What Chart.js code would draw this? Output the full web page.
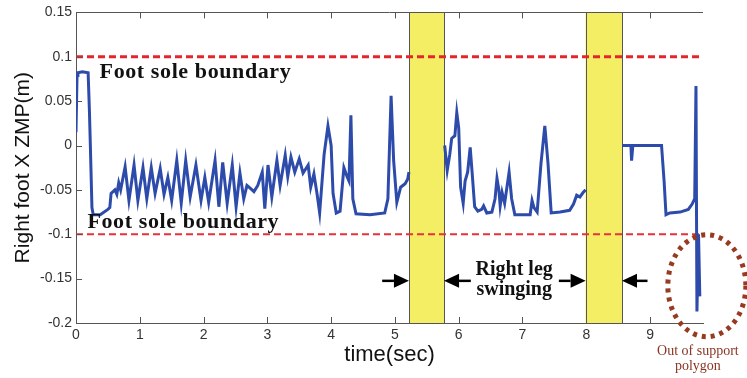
<!DOCTYPE html>
<html><head><meta charset="utf-8">
<script src="https://cdn.jsdelivr.net/npm/chart.js@4"></script>
<style>html,body{margin:0;padding:0;background:#fff;}#wrap{width:747px;height:378px;position:relative;}</style>
</head><body><div id="wrap"><canvas id="c" width="747" height="378"></canvas></div>
<script>
// ---- data ----
const time = [0.00,0.016,0.03,0.10,0.19,0.21,0.225,0.25,0.27,0.38,0.50,0.53,0.55,0.61,0.64,0.67,0.70,0.77,0.83,0.91,0.97,1.05,1.11,1.18,1.24,1.32,1.38,1.44,1.50,1.58,1.65,1.72,1.79,1.88,1.96,2.02,2.08,2.18,2.24,2.30,2.37,2.45,2.51,2.57,2.63,2.68,2.73,2.79,2.85,2.92,2.96,3.01,3.07,3.15,3.20,3.28,3.32,3.37,3.43,3.50,3.56,3.64,3.68,3.73,3.78,3.82,3.89,3.95,4.00,4.03,4.08,4.14,4.20,4.25,4.28,4.31,4.34,4.39,4.61,4.84,4.89,4.94,4.98,5.03,5.09,5.16,5.20,5.22,
  5.50,
  5.78,5.82,5.86,5.89,5.94,5.97,6.00,6.03,6.07,6.10,6.14,6.18,6.21,6.25,6.30,6.36,6.39,6.44,6.52,6.57,6.60,6.63,6.65,6.68,6.72,6.76,6.79,6.83,6.88,7.12,7.15,7.18,7.23,7.29,7.35,7.40,7.45,7.59,7.74,7.80,7.85,7.90,7.95,7.99,
  8.27,
  8.56,8.70,8.71,8.73,9.18,9.22,9.25,9.31,9.47,9.60,9.66,9.70,9.72,9.735,9.76,9.78];
const zmp = [0.015,0.079,0.082,0.083,0.082,0.04,0.0,-0.07,-0.078,-0.078,-0.072,-0.07,-0.054,-0.05,-0.055,-0.042,-0.05,-0.024,-0.062,-0.022,-0.062,-0.025,-0.060,-0.025,-0.054,-0.026,-0.055,-0.036,-0.062,-0.017,-0.065,-0.017,-0.058,-0.022,-0.062,-0.036,-0.064,-0.017,-0.069,-0.019,-0.065,-0.022,-0.069,-0.031,-0.060,-0.045,-0.048,-0.052,-0.045,-0.030,-0.071,-0.022,-0.058,-0.017,-0.045,-0.011,-0.035,-0.013,-0.030,-0.015,-0.031,-0.022,-0.047,-0.032,-0.055,-0.076,-0.010,0.022,0.000,-0.054,-0.076,-0.074,-0.025,-0.035,-0.040,0.034,-0.060,-0.077,-0.078,-0.076,-0.060,0.056,-0.017,-0.064,-0.047,-0.043,-0.038,-0.030,
  null,
  0.000,-0.028,-0.010,0.008,0.011,0.037,0.020,-0.047,-0.065,-0.040,-0.030,-0.002,-0.030,-0.069,-0.074,-0.072,-0.068,-0.076,-0.075,-0.060,-0.037,-0.050,-0.068,-0.053,-0.065,-0.045,-0.030,-0.060,-0.078,-0.078,-0.062,-0.070,-0.075,-0.020,0.022,-0.020,-0.076,-0.075,-0.073,-0.066,-0.056,-0.058,-0.053,-0.050,
  null,
  0.000,0.000,-0.017,0.000,0.000,-0.040,-0.078,-0.076,-0.075,-0.072,-0.066,-0.060,0.067,-0.187,-0.100,-0.170];
const xTicks = [0,1,2,3,4,5,6,7,8,9];
const xRange = [0, 9.83];
const yTicks = [-0.2,-0.15,-0.1,-0.05,0,0.05,0.1,0.15];
const yTickLabels = ['-0.2','-0.15','-0.1','-0.05','0','0.05','0.1','0.15'];
const boundaryTime = [0, 9.83];
const upperBoundary = [0.1, 0.1];
const lowerBoundary = [-0.1, -0.1];
const swingStart = [5.22, 7.99];
const swingEnd = [5.77, 8.56];

// ---- plugins ----
const SERIF = '"Liberation Serif", "DejaVu Serif", serif';
const SANS = '"Liberation Sans", Arial, sans-serif';

const bandPlugin = {
  id: 'bands',
  beforeDatasetsDraw(chart) {
    const {ctx, chartArea: ca, scales: {x}} = chart;
    ctx.save();
    for (let i = 0; i < swingStart.length; i++) {
      const x0 = x.getPixelForValue(swingStart[i]);
      const x1 = x.getPixelForValue(swingEnd[i]);
      ctx.fillStyle = '#F4EE64';
      ctx.fillRect(x0, ca.top, x1 - x0, ca.bottom - ca.top);
      ctx.strokeStyle = '#555';
      ctx.lineWidth = 1;
      ctx.beginPath();
      ctx.moveTo(Math.round(x0) + 0.5, ca.top); ctx.lineTo(Math.round(x0) + 0.5, ca.bottom);
      ctx.moveTo(Math.round(x1) + 0.5, ca.top); ctx.lineTo(Math.round(x1) + 0.5, ca.bottom);
      ctx.stroke();
    }
    ctx.restore();
  }
};

function arrow(ctx, xTail, xTip, y) {
  const dir = Math.sign(xTip - xTail);
  const head = 15;
  ctx.beginPath();
  ctx.moveTo(xTail, y);
  ctx.lineTo(xTip - dir * head, y);
  ctx.lineWidth = 2.5;
  ctx.strokeStyle = '#000';
  ctx.stroke();
  ctx.beginPath();
  ctx.moveTo(xTip, y);
  ctx.lineTo(xTip - dir * head, y - 7);
  ctx.lineTo(xTip - dir * head, y + 7);
  ctx.closePath();
  ctx.fillStyle = '#000';
  ctx.fill();
}

const decoPlugin = {
  id: 'deco',
  afterDraw(chart) {
    const {ctx, chartArea: ca, scales: {x, y}} = chart;
    ctx.save();
    // top border
    ctx.strokeStyle = '#555';
    ctx.lineWidth = 1;
    ctx.beginPath();
    ctx.moveTo(ca.left, Math.round(ca.top) + 0.5);
    ctx.lineTo(ca.right, Math.round(ca.top) + 0.5);
    ctx.stroke();
    // inward ticks
    ctx.beginPath();
    xTicks.forEach(v => {
      if (v === 0) return;
      const px = Math.round(x.getPixelForValue(v)) + 0.5;
      ctx.moveTo(px, ca.bottom); ctx.lineTo(px, ca.bottom - 6);
      ctx.moveTo(px, ca.top); ctx.lineTo(px, ca.top + 6);
    });
    yTicks.forEach(v => {
      const py = Math.round(y.getPixelForValue(v)) + 0.5;
      ctx.moveTo(ca.left, py); ctx.lineTo(ca.left + 6, py);
    });
    ctx.stroke();

    // text annotations
    ctx.fillStyle = '#111';
    ctx.textBaseline = 'alphabetic';
    ctx.textAlign = 'left';
    ctx.font = 'bold 22px ' + SERIF;
    try { ctx.letterSpacing = '0.6px'; } catch (e) {}
    ctx.fillText('Foot sole boundary', x.getPixelForValue(0.37), y.getPixelForValue(0.076));
    ctx.fillText('Foot sole boundary', x.getPixelForValue(0.18), y.getPixelForValue(-0.093));
    try { ctx.letterSpacing = '0px'; } catch (e) {}
    ctx.font = 'bold 20px ' + SERIF;
    ctx.textAlign = 'center';
    ctx.fillText('Right leg', x.getPixelForValue(6.87), y.getPixelForValue(-0.146));
    ctx.fillText('swinging', x.getPixelForValue(6.87), y.getPixelForValue(-0.168));

    // arrows
    const ay = y.getPixelForValue(-0.1525);
    const aLen = 0.42;
    arrow(ctx, x.getPixelForValue(swingStart[0] - aLen), x.getPixelForValue(swingStart[0]), ay);
    arrow(ctx, x.getPixelForValue(swingEnd[0] + aLen), x.getPixelForValue(swingEnd[0]), ay);
    arrow(ctx, x.getPixelForValue(swingStart[1] - aLen), x.getPixelForValue(swingStart[1]), ay);
    arrow(ctx, x.getPixelForValue(swingEnd[1] + 0.4), x.getPixelForValue(swingEnd[1]), ay);

    // dotted ellipse
    ctx.beginPath();
    ctx.setLineDash([4, 5]);
    ctx.lineWidth = 5;
    ctx.strokeStyle = '#973A20';
    ctx.ellipse(x.getPixelForValue(9.89), y.getPixelForValue(-0.158), 39, 51, 0, 0, Math.PI * 2);
    ctx.stroke();
    ctx.setLineDash([]);

    ctx.fillStyle = '#8A3322';
    ctx.font = '14px ' + SERIF;
    ctx.textAlign = 'center';
    const cx = x.getPixelForValue(9.75);
    ctx.fillText('Out of support', cx, 355);
    ctx.fillText('polygon', cx, 370);
    ctx.restore();
  }
};

const seriesData = time.map((t, i) => ({x: t, y: zmp[i]}));

new Chart(document.getElementById('c'), {
  type: 'line',
  data: {
    datasets: [
      {data: seriesData, borderColor: '#2D4BAA', borderWidth: 3, pointRadius: 0, spanGaps: false, tension: 0, fill: false},
      {data: boundaryTime.map((t, i) => ({x: t, y: upperBoundary[i]})), borderColor: '#E3262B', borderWidth: 3, borderDash: [7, 4], pointRadius: 0, fill: false},
      {data: boundaryTime.map((t, i) => ({x: t, y: lowerBoundary[i]})), borderColor: '#E8313A', borderWidth: 1.8, borderDash: [7, 4], pointRadius: 0, fill: false}
    ]
  },
  options: {
    responsive: false,
    animation: false,
    events: [],
    layout: {padding: {left: 0, top: 11, right: 44, bottom: 0}},
    plugins: {legend: {display: false}, tooltip: {enabled: false}},
    scales: {
      x: {
        type: 'linear', min: xRange[0], max: xRange[1],
        afterBuildTicks: s => { s.ticks = xTicks.map(v => ({value: v})); },
        afterFit: s => { s.height = 55; },
        grid: {display: false, drawTicks: false},
        border: {display: true, color: '#555', width: 1},
        ticks: {font: {family: SANS, size: 14}, color: '#333', padding: 4, maxRotation: 0, autoSkip: false,
          callback: (v, i) => String(xTicks[i])},
        title: {display: true, text: 'time(sec)', font: {family: SANS, size: 22}, color: '#111', padding: {top: 0, bottom: 10}}
      },
      y: {
        type: 'linear', min: -0.2, max: 0.15,
        afterBuildTicks: s => { s.ticks = yTicks.map(v => ({value: v})); },
        afterFit: s => { s.width = 76; },
        grid: {display: false, drawTicks: false},
        border: {display: true, color: '#555', width: 1},
        ticks: {font: {family: SANS, size: 14}, color: '#333', padding: 4, autoSkip: false,
          callback: (v, i) => yTickLabels[i]},
        title: {display: true, text: 'Right foot X ZMP(m)', font: {family: SANS, size: 21}, color: '#111', padding: {top: 11, bottom: 0}}
      }
    }
  },
  plugins: [bandPlugin, decoPlugin]
});
</script>
</body></html>
